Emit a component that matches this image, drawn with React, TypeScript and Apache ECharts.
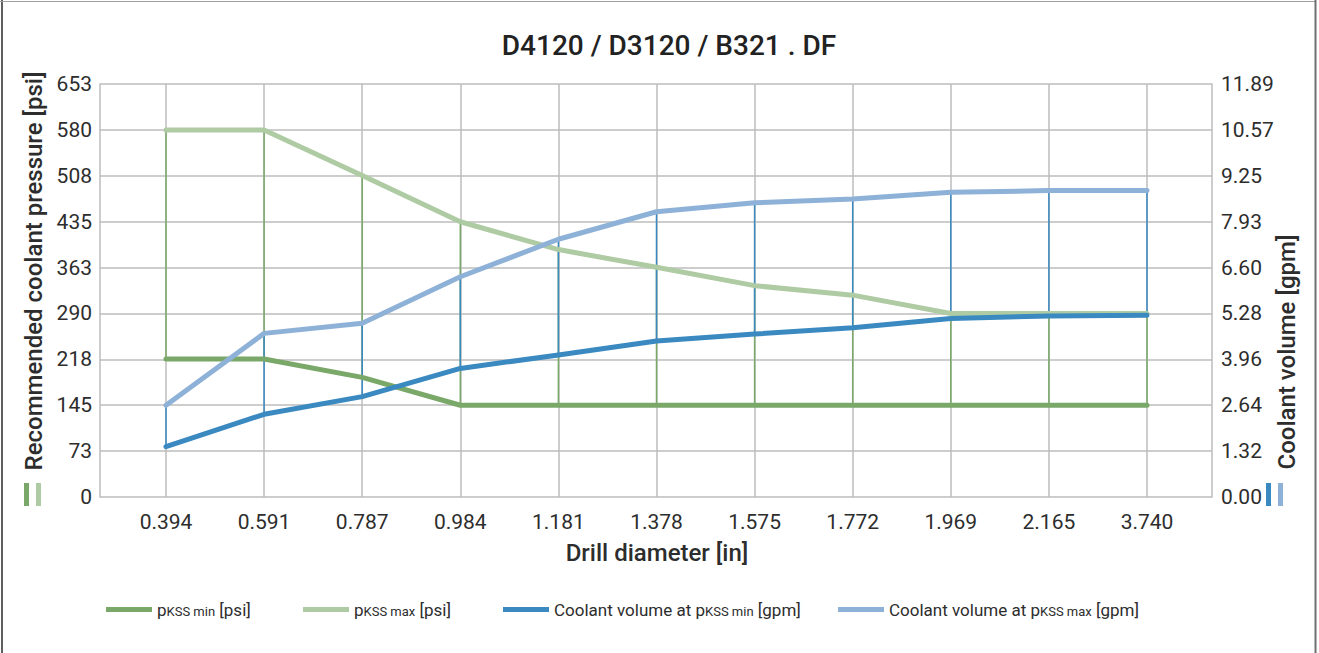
import React, { useEffect, useRef } from "react";
import * as echarts from "echarts";

// Drill diameters (inch) along the x axis
const diameters = ["0.394", "0.591", "0.787", "0.984", "1.181", "1.378", "1.575", "1.772", "1.969", "2.165", "3.740"];

// Recommended coolant pressure [psi]
const pressureMin = [218, 218, 189, 145, 145, 145, 145, 145, 145, 145, 145];
const pressureMax = [580, 580, 508, 435, 391, 363, 334, 319, 290, 290, 290];

// Coolant volume [gpm] at the minimum / maximum pressure
const volumeAtMin = [1.45, 2.38, 2.89, 3.7, 4.09, 4.49, 4.69, 4.87, 5.14, 5.21, 5.23];
const volumeAtMax = [2.64, 4.71, 5.0, 6.34, 7.42, 8.21, 8.47, 8.58, 8.77, 8.82, 8.82];

// Axis scales: nine equal steps on each side
const pressureStep = 72.52;
const pressureTop = 652.68;
const volumeStep = 1.3209;
const volumeTop = 11.8881;

const seriesNames = ["pMin", "pMax", "vMin", "vMax"];
const legendLabels: Record<string, string> = {
  pMin: "{m|p}{s|KSS min}{m| [psi]}",
  pMax: "{m|p}{s|KSS max}{m| [psi]}",
  vMin: "{m|Coolant volume at p}{s|KSS min}{m| [gpm]}",
  vMax: "{m|Coolant volume at p}{s|KSS max}{m| [gpm]}",
};

const FONT = "Roboto";
const TEXT = "#2d2d2d";
const GRID = "#bdbdbd";
const GREEN_DARK = "#79a868";
const GREEN_LIGHT = "#aecba3";
const BLUE_DARK = "#3a89c1";
const BLUE_LIGHT = "#8eb1d8";

const spanSeries = (name: string, low: number[], high: number[], yAxisIndex: number, color: string) => ({
  type: "custom",
  name,
  xAxisIndex: 1,
  yAxisIndex,
  z: 1,
  silent: true,
  data: low.map((v, i) => [i, v, high[i]]),
  encode: { x: 0, y: [1, 2] },
  renderItem: (_params: any, api: any) => {
    const a = api.coord([api.value(0), api.value(1)]);
    const b = api.coord([api.value(0), api.value(2)]);
    return {
      type: "line",
      shape: { x1: a[0], y1: a[1], x2: b[0], y2: b[1] },
      style: { stroke: color, lineWidth: 1.5 },
    };
  },
});

const lineSeries = (name: string, data: number[], yAxisIndex: number, color: string, z: number) => ({
  type: "line",
  name,
  xAxisIndex: 1,
  yAxisIndex,
  z,
  data,
  color,
  symbol: "none",
  showSymbol: false,
  lineStyle: { color, width: 5, cap: "round", join: "round" },
});

const legendAt = (name: string, left: number) => ({
  data: [name],
  left,
  top: 596,
  icon: "rect",
  itemWidth: 46,
  itemHeight: 5,
  selectedMode: false,
  formatter: (n: string) => legendLabels[n],
  textStyle: {
    rich: {
      m: { fontFamily: FONT, fontSize: 17, color: TEXT },
      s: { fontFamily: FONT, fontSize: 13, color: TEXT, padding: [3, 0, 0, 0] },
    },
  },
});

export default function App() {
  const ref = useRef<HTMLDivElement>(null);

  useEffect(() => {
    if (!ref.current) return;
    const chart = echarts.init(ref.current, undefined, { renderer: "svg" });

    const hiddenY = { show: false, min: 0 };

    chart.setOption({
      animation: false,
      backgroundColor: "#ffffff",
      title: {
        text: "D4120 / D3120 / B321 . DF",
        left: 664,
        top: 26,
        textAlign: "center",
        textStyle: { fontFamily: FONT, fontSize: 28, fontWeight: 500, color: "#222" },
      },
      grid: [
        { left: 100, top: 84, width: 1112, height: 413 },
        { left: 166, top: 84, width: 981, height: 413 },
      ],
      xAxis: [
        { type: "value", gridIndex: 0, show: false, min: 0, max: 1 },
        {
          type: "category",
          gridIndex: 1,
          data: diameters,
          boundaryGap: false,
          axisLine: { show: false },
          axisTick: { show: false },
          splitLine: { show: true, lineStyle: { color: GRID, width: 1.5 } },
          axisLabel: { fontFamily: FONT, fontSize: 21, color: TEXT, margin: 14 },
        },
      ],
      yAxis: [
        {
          type: "value",
          gridIndex: 0,
          position: "left",
          min: 0,
          max: pressureTop,
          interval: pressureStep,
          axisLine: { show: true, lineStyle: { color: GRID, width: 1.5 } },
          axisTick: { show: false },
          splitLine: { show: true, lineStyle: { color: GRID, width: 1.5 } },
          axisLabel: {
            fontFamily: FONT,
            fontSize: 21,
            color: TEXT,
            margin: 8,
            formatter: (v: number) => String(Math.round(v)),
          },
        },
        {
          type: "value",
          gridIndex: 0,
          position: "right",
          min: 0,
          max: volumeTop,
          interval: volumeStep,
          axisLine: { show: true, lineStyle: { color: GRID, width: 1.5 } },
          axisTick: { show: false },
          splitLine: { show: false },
          axisLabel: {
            fontFamily: FONT,
            fontSize: 21,
            color: TEXT,
            margin: 9,
            formatter: (v: number) => v.toFixed(2),
          },
        },
        { ...hiddenY, type: "value", gridIndex: 1, max: pressureTop },
        { ...hiddenY, type: "value", gridIndex: 1, max: volumeTop },
      ],
      legend: [
        legendAt(seriesNames[0], 101),
        legendAt(seriesNames[1], 298),
        legendAt(seriesNames[2], 498),
        legendAt(seriesNames[3], 833),
      ],
      series: [
        spanSeries("pressureSpan", pressureMin, pressureMax, 2, GREEN_DARK),
        spanSeries("volumeSpan", volumeAtMin, volumeAtMax, 3, BLUE_DARK),
        lineSeries(seriesNames[0], pressureMin, 2, GREEN_DARK, 3),
        lineSeries(seriesNames[1], pressureMax, 2, GREEN_LIGHT, 4),
        lineSeries(seriesNames[2], volumeAtMin, 3, BLUE_DARK, 5),
        lineSeries(seriesNames[3], volumeAtMax, 3, BLUE_LIGHT, 6),
      ],
      graphic: [
        // outer frame: left, top and right edges
        { type: "line", shape: { x1: 2, y1: 0, x2: 2, y2: 653 }, style: { stroke: "#5f5f5f", lineWidth: 2 } },
        { type: "line", shape: { x1: 0, y1: 1.5, x2: 1316, y2: 1.5 }, style: { stroke: "#a0a0a0", lineWidth: 1 } },
        { type: "line", shape: { x1: 1315.5, y1: 0, x2: 1315.5, y2: 653 }, style: { stroke: "#707070", lineWidth: 2 } },
        // axis names
        {
          type: "text",
          x: 34,
          y: 271,
          rotation: Math.PI / 2,
          style: {
            text: "Recommended coolant pressure [psi]",
            fontFamily: FONT,
            fontSize: 24,
            fontWeight: 500,
            fill: TEXT,
            align: "center",
            verticalAlign: "middle",
          },
        },
        { type: "rect", shape: { x: 24, y: 483, width: 5, height: 23 }, style: { fill: GREEN_DARK } },
        { type: "rect", shape: { x: 36, y: 483, width: 5, height: 23 }, style: { fill: GREEN_LIGHT } },
        {
          type: "text",
          x: 1287,
          y: 352,
          rotation: Math.PI / 2,
          style: {
            text: "Coolant volume [gpm]",
            fontFamily: FONT,
            fontSize: 24,
            fontWeight: 500,
            fill: TEXT,
            align: "center",
            verticalAlign: "middle",
          },
        },
        { type: "rect", shape: { x: 1266, y: 483, width: 5, height: 23 }, style: { fill: BLUE_DARK } },
        { type: "rect", shape: { x: 1278, y: 483, width: 5, height: 23 }, style: { fill: BLUE_LIGHT } },
        {
          type: "text",
          x: 657,
          y: 553,
          style: {
            text: "Drill diameter [in]",
            fontFamily: FONT,
            fontSize: 24,
            fontWeight: 500,
            fill: TEXT,
            align: "center",
            verticalAlign: "middle",
          },
        },
      ],
    });

    return () => chart.dispose();
  }, []);

  return (
    <div
      ref={ref}
      style={{ position: "fixed", left: 0, top: 0, width: 1319, height: 653, background: "#ffffff" }}
    />
  );
}
